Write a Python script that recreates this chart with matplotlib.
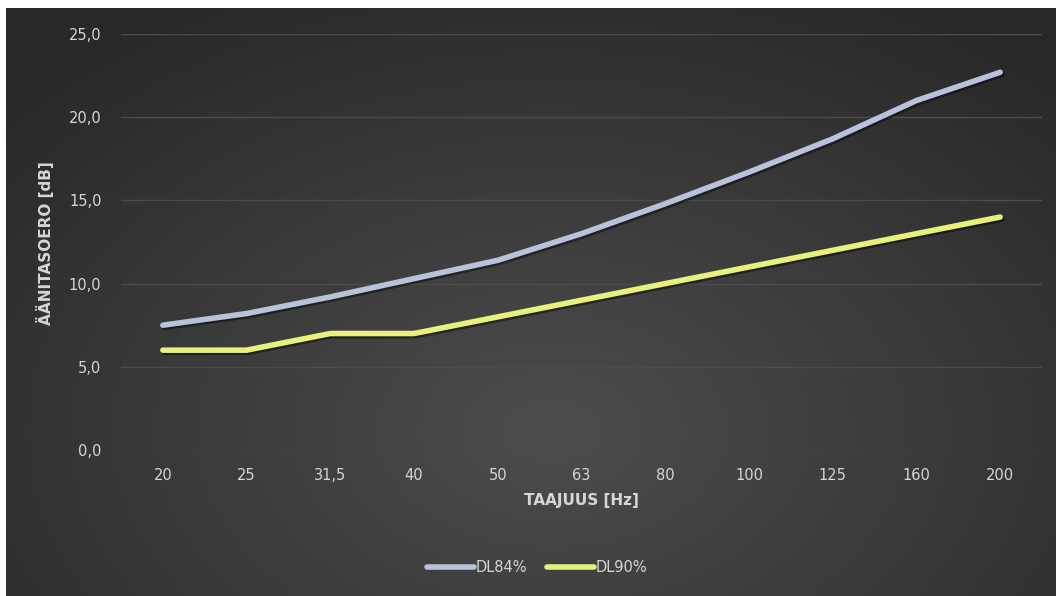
import numpy as np
import matplotlib
matplotlib.use("Agg")
import matplotlib.pyplot as plt
import matplotlib.patheffects as pe
from matplotlib.lines import Line2D

plt.rcParams['font.family'] = ['DejaVu Sans']

freqs = ['20', '25', '31,5', '40', '50', '63', '80', '100', '125', '160', '200']
dl84 = [7.5, 8.2, 9.2, 10.3, 11.4, 13.0, 14.8, 16.7, 18.7, 21.0, 22.7]
dl90 = [6.0, 6.0, 7.0, 7.0, 8.0, 9.0, 10.0, 11.0, 12.0, 13.0, 14.0]
series = [('DL84%', dl84, '#b9c2dc'), ('DL90%', dl90, '#e6f27a')]
yticks = [0, 5, 10, 15, 20, 25]

TXT = '#d6d6d6'

fig = plt.figure(figsize=(10.56, 5.96), dpi=100)
fig.patch.set_facecolor('white')

# dark gradient background (white strip top/left like the screenshot)
bg = fig.add_axes([6 / 1056, 0, 1 - 6 / 1056, 1 - 8 / 596])
bg.set_axis_off()
gx, gy = np.meshgrid(np.linspace(0, 1, 400), np.linspace(0, 1, 240))
r = np.sqrt(((gx - 0.52) / 0.75) ** 2 + ((gy - 0.72) / 0.9) ** 2)
shade = np.clip(0.30 - 0.15 * r, 0.16, 0.30)
bg.imshow(np.dstack([shade] * 3), aspect='auto', extent=[0, 1, 1, 0], interpolation='bicubic')

ax = fig.add_axes([121 / 1056, 1 - 450 / 596, 921 / 1056, 416 / 596])
ax.patch.set_alpha(0)
x = np.arange(len(freqs))
ax.set_xlim(-0.5, len(freqs) - 0.5)
ax.set_ylim(0, 25)

for lab, vals, col in series:
    ax.plot(x, vals, color=col, lw=4, solid_capstyle='round', solid_joinstyle='round', zorder=3,
            path_effects=[pe.SimpleLineShadow(offset=(1.2, -1.5), shadow_color='black', alpha=0.45),
                          pe.Normal()])

ax.set_yticks(yticks)
ax.set_yticklabels([f'{v:.1f}'.replace('.', ',') for v in yticks])
ax.set_xticks(x)
ax.set_xticklabels(freqs)
ax.grid(axis='y', color='#4c4c4c', lw=1)
ax.set_axisbelow(True)
for s in ax.spines.values():
    s.set_visible(False)
ax.tick_params(length=0, colors=TXT, labelsize=10.5)
ax.tick_params(axis='y', pad=14)
ax.tick_params(axis='x', pad=13)

ax.set_xlabel('TAAJUUS [Hz]', color=TXT, fontsize=11, fontweight='bold', labelpad=7)
fig.text(45 / 1056, 1 - 243 / 596, 'ÄÄNITASOERO [dB]', color=TXT, fontsize=11,
         fontweight='bold', rotation=90, ha='center', va='center')

handles = [Line2D([], [], color=c, lw=4, solid_capstyle='round') for _, _, c in series]
fig.legend(handles, [s[0] for s in series], loc='center', bbox_to_anchor=(537 / 1056, 1 - 568 / 596),
           ncol=2, frameon=False, handlelength=3.2, handletextpad=0.1, columnspacing=1.4,
           labelcolor=TXT, prop={'size': 10.5})

fig.savefig('out.png', dpi=100)
